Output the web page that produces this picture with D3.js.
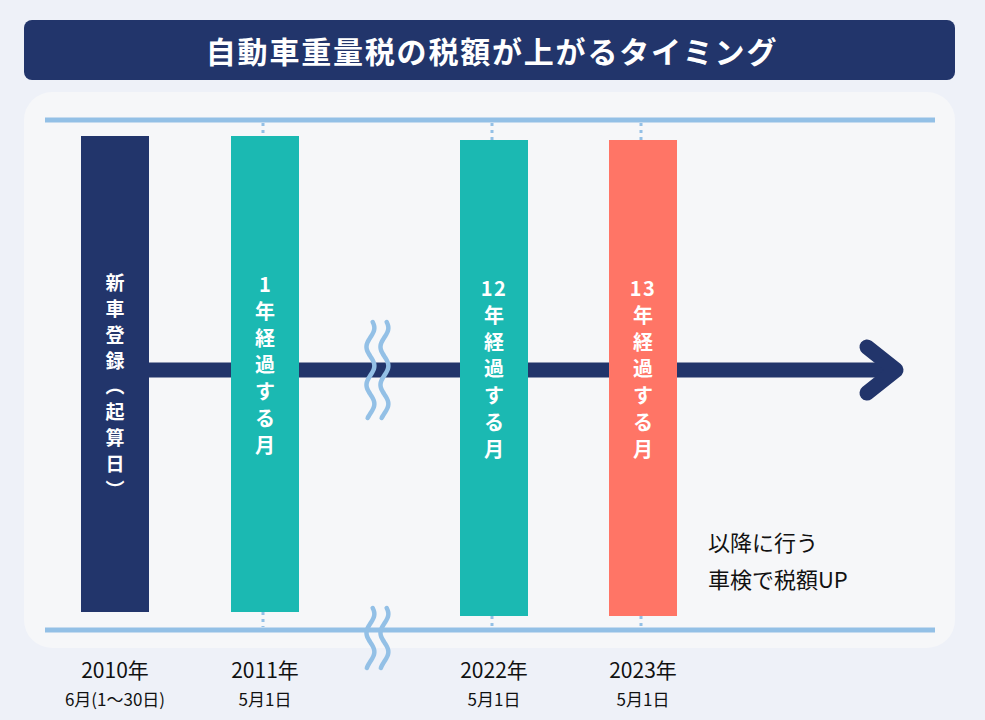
<!DOCTYPE html>
<html>
<head>
<meta charset="utf-8">
<script src="https://cdn.jsdelivr.net/npm/d3@7"></script>
<style>
    body { margin: 0; background: #eef1f8; }
    svg { display: block; font-family: "Noto Sans CJK JP", "Noto Sans", sans-serif; }
</style>
</head>
<body>
<div id="chart"></div>
<script>

// ---- data ----
var titleText = "自動車重量税の税額が上がるタイミング";
var elapsedYears = [0, 1, 12, 13];
var eventKinds = ["start", "elapsed", "elapsed", "taxUp"];
var barLabels = [
    ["新", "車", "登", "録", "（", "起", "算", "日", "）"],
    ["1", "年", "経", "過", "す", "る", "月"],
    ["12", "年", "経", "過", "す", "る", "月"],
    ["13", "年", "経", "過", "す", "る", "月"]
];
var yearLabels = ["2010年", "2011年", "2022年", "2023年"];
var dateLabels = ["6月(1〜30日)", "5月1日", "5月1日", "5月1日"];
var breakAt = 6.4;   // elapsed years hidden behind the wavy break
var noteLines = ["以降に行う", "車検で税額UP"];

// ---- styles ----
var colorByKind = { start: "#22356b", elapsed: "#1bb9b2", taxUp: "#ff7566" };
var navy = "#22356b";
var lightBlue = "#93c0e6";

var width = 985, height = 720;

var svg = d3.select("#chart").append("svg")
    .attr("width", width)
    .attr("height", height);

svg.append("rect")
    .attr("width", width).attr("height", height)
    .attr("fill", "#eef1f8");

// title banner
svg.append("rect")
    .attr("x", 24).attr("y", 20)
    .attr("width", 931).attr("height", 60)
    .attr("rx", 8)
    .attr("fill", navy);

svg.append("text")
    .attr("x", 492).attr("y", 50)
    .attr("text-anchor", "middle")
    .attr("dominant-baseline", "central")
    .attr("fill", "#fff")
    .attr("font-size", 30)
    .attr("font-weight", 700)
    .attr("letter-spacing", 1.8)
    .text(titleText);

// panel
svg.append("rect")
    .attr("x", 24).attr("y", 92)
    .attr("width", 931).attr("height", 556)
    .attr("rx", 28)
    .attr("fill", "#f6f7f9");

// piecewise scale : the gap between year 1 and year 12 is compressed
var x = d3.scaleLinear()
    .domain([0, 1, 12, 13])
    .range([115, 265, 494, 643]);

var barW = 68, barH = 476;
var topLineY = 120, bottomLineY = 630, axisY = 370;

function barTop(i) { return i < 2 ? 136 : 140; }

// horizontal guide lines
[topLineY, bottomLineY].forEach(function(y) {
    svg.append("line")
        .attr("x1", 45).attr("x2", 935)
        .attr("y1", y).attr("y2", y)
        .attr("stroke", lightBlue)
        .attr("stroke-width", 5);
});

var events = elapsedYears.map(function(d, i) {
    return { years: d, kind: eventKinds[i], label: barLabels[i], year: yearLabels[i], date: dateLabels[i], i: i };
});

// dotted connectors
var later = events.filter(function(d) { return d.i > 0; });

svg.selectAll(".conn-top")
    .data(later)
    .enter().append("line")
    .attr("class", "conn-top")
    .attr("x1", function(d) { return x(d.years) - 2; })
    .attr("x2", function(d) { return x(d.years) - 2; })
    .attr("y1", topLineY + 3)
    .attr("y2", function(d) { return barTop(d.i); })
    .attr("stroke", lightBlue)
    .attr("stroke-width", 3)
    .attr("stroke-dasharray", "3,4");

svg.selectAll(".conn-bottom")
    .data(later)
    .enter().append("line")
    .attr("class", "conn-bottom")
    .attr("x1", function(d) { return x(d.years) - 2; })
    .attr("x2", function(d) { return x(d.years) - 2; })
    .attr("y1", function(d) { return barTop(d.i) + barH; })
    .attr("y2", bottomLineY - 3)
    .attr("stroke", lightBlue)
    .attr("stroke-width", 3)
    .attr("stroke-dasharray", "3,4");

// arrow
svg.append("line")
    .attr("x1", x(0)).attr("x2", 896)
    .attr("y1", axisY).attr("y2", axisY)
    .attr("stroke", navy)
    .attr("stroke-width", 15);

svg.append("path")
    .attr("d", "M867," + (axisY - 23) + "L896," + axisY + "L867," + (axisY + 23))
    .attr("fill", "none")
    .attr("stroke", navy)
    .attr("stroke-width", 15)
    .attr("stroke-linecap", "round")
    .attr("stroke-linejoin", "round");

// bars
svg.selectAll(".bar")
    .data(events)
    .enter().append("rect")
    .attr("class", "bar")
    .attr("x", function(d) { return x(d.years) - barW / 2; })
    .attr("y", function(d) { return barTop(d.i); })
    .attr("width", barW)
    .attr("height", barH)
    .attr("fill", function(d) { return colorByKind[d.kind]; });

// vertical labels inside bars
events.forEach(function(d) {
    var cx = x(d.years);
    var y0 = barTop(d.i) + 147;

    if (d.i === 0) {
        // real vertical writing, so the brackets turn sideways by themselves
        svg.append("text")
            .attr("x", cx).attr("y", y0 - 9.5)
            .style("writing-mode", "vertical-rl")
            .attr("fill", "#fff")
            .attr("font-size", 19)
            .attr("font-weight", 700)
            .attr("letter-spacing", 6.8)
            .text(d.label.join(""));
        return;
    }

    var t = svg.append("text")
        .attr("text-anchor", "middle")
        .attr("dominant-baseline", "central")
        .attr("fill", "#fff")
        .attr("font-size", 20)
        .attr("font-weight", 700);

    t.selectAll("tspan")
        .data(d.label)
        .enter().append("tspan")
        .attr("x", cx)
        .attr("y", function(ch, k) { return y0 + k * 26.8; })
        .attr("letter-spacing", function(ch) { return ch.length > 1 ? 1.5 : 0; })
        .text(function(ch) { return ch; });
});

// wavy break marks
var wave = d3.line().curve(d3.curveBasis);

function wavePoints(cx, y0, y1) {
    var pts = [];
    for (var y = y0; y <= y1; y += 2) {
        pts.push([cx + 4 * Math.sin((y - y0) / 38 * 2 * Math.PI + 0.6), y]);
    }
    return pts;
}

[[322, 418], [608, 668]].forEach(function(span) {
    [-7, 7].forEach(function(dx) {
        svg.append("path")
            .attr("d", wave(wavePoints(x(breakAt) + dx, span[0], span[1])))
            .attr("fill", "none")
            .attr("stroke", lightBlue)
            .attr("stroke-width", 4.5)
            .attr("stroke-linecap", "round");
    });
});

// dates under the timeline
svg.selectAll(".year-label")
    .data(events)
    .enter().append("text")
    .attr("class", "year-label")
    .attr("x", function(d) { return x(d.years); })
    .attr("y", 669)
    .attr("text-anchor", "middle")
    .attr("dominant-baseline", "central")
    .attr("font-size", 21)
    .attr("fill", "#111")
    .text(function(d) { return d.year; });

svg.selectAll(".date-label")
    .data(events)
    .enter().append("text")
    .attr("class", "date-label")
    .attr("x", function(d) { return x(d.years); })
    .attr("y", 698)
    .attr("text-anchor", "middle")
    .attr("dominant-baseline", "central")
    .attr("font-size", 17)
    .attr("fill", "#111")
    .text(function(d) { return d.date; });

// note
svg.selectAll(".note")
    .data(noteLines)
    .enter().append("text")
    .attr("class", "note")
    .attr("x", 708)
    .attr("y", function(d, i) { return 541 + i * 37; })
    .attr("dominant-baseline", "central")
    .attr("font-size", 22)
    .attr("fill", "#111")
    .text(function(d) { return d; });

</script>
</body>
</html>
